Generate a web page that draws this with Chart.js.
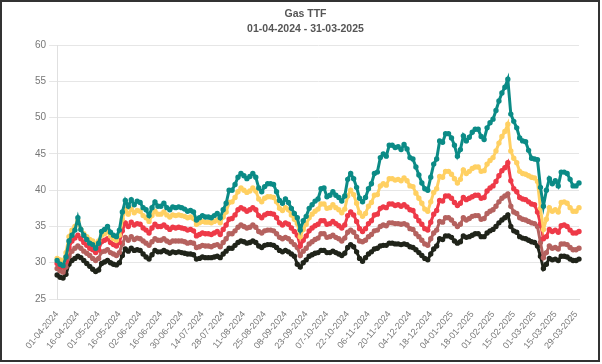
<!DOCTYPE html>
<html>
<head>
<meta charset="utf-8">
<script src="https://cdn.jsdelivr.net/npm/chart.js@4.4.1/dist/chart.umd.min.js"></script>
<style>
  html, body { margin: 0; padding: 0; background: #fff; }
  .frame { width: 600px; height: 362px; box-sizing: border-box; border: 2px solid #333; }
  canvas { display: block; }
</style>
</head>
<body>
<div class="frame"><canvas id="chart" width="596" height="358"></canvas></div>
<script>
// dates of the points (one every ~2 days)
const dates = [
  '01-04-2024','03-04-2024','05-04-2024','07-04-2024','10-04-2024','12-04-2024','14-04-2024',
  '16-04-2024','18-04-2024','20-04-2024','22-04-2024','25-04-2024','27-04-2024','29-04-2024',
  '01-05-2024','03-05-2024','05-05-2024','07-05-2024','10-05-2024','12-05-2024','14-05-2024',
  '16-05-2024','18-05-2024','21-05-2024','23-05-2024','26-05-2024','28-05-2024','31-05-2024',
  '02-06-2024','04-06-2024','06-06-2024','08-06-2024','10-06-2024','12-06-2024','14-06-2024',
  '16-06-2024','18-06-2024','20-06-2024','22-06-2024','24-06-2024','26-06-2024','28-06-2024',
  '30-06-2024','02-07-2024','04-07-2024','06-07-2024','08-07-2024','10-07-2024','12-07-2024',
  '14-07-2024','16-07-2024','18-07-2024','20-07-2024','22-07-2024','24-07-2024','26-07-2024',
  '28-07-2024','30-07-2024','01-08-2024','03-08-2024','05-08-2024','07-08-2024','09-08-2024',
  '11-08-2024','13-08-2024','15-08-2024','17-08-2024','19-08-2024','21-08-2024','23-08-2024',
  '25-08-2024','27-08-2024','29-08-2024','31-08-2024','02-09-2024','04-09-2024','06-09-2024',
  '08-09-2024','10-09-2024','12-09-2024','14-09-2024','17-09-2024','19-09-2024','21-09-2024',
  '23-09-2024','25-09-2024','27-09-2024','29-09-2024','01-10-2024','03-10-2024','05-10-2024',
  '07-10-2024','09-10-2024','11-10-2024','13-10-2024','16-10-2024','18-10-2024','20-10-2024',
  '22-10-2024','24-10-2024','26-10-2024','28-10-2024','31-10-2024','02-11-2024','04-11-2024',
  '06-11-2024','08-11-2024','10-11-2024','12-11-2024','14-11-2024','16-11-2024','18-11-2024',
  '20-11-2024','22-11-2024','24-11-2024','26-11-2024','28-11-2024','30-11-2024','02-12-2024',
  '04-12-2024','06-12-2024','08-12-2024','10-12-2024','12-12-2024','14-12-2024','16-12-2024',
  '18-12-2024','20-12-2024','23-12-2024','25-12-2024','28-12-2024','30-12-2024','02-01-2025',
  '04-01-2025','06-01-2025','08-01-2025','10-01-2025','12-01-2025','14-01-2025','16-01-2025',
  '18-01-2025','20-01-2025','22-01-2025','24-01-2025','26-01-2025','28-01-2025','30-01-2025',
  '01-02-2025','03-02-2025','05-02-2025','07-02-2025','09-02-2025','11-02-2025','13-02-2025',
  '15-02-2025','17-02-2025','19-02-2025','21-02-2025','23-02-2025','25-02-2025','27-02-2025',
  '01-03-2025','03-03-2025','05-03-2025','07-03-2025','09-03-2025','11-03-2025','13-03-2025',
  '15-03-2025','17-03-2025','19-03-2025','21-03-2025','23-03-2025','25-03-2025','27-03-2025',
  '29-03-2025','31-03-2025'
];

// labels shown under the x axis
const tickLabels = [
  '01-04-2024','16-04-2024','01-05-2024','16-05-2024','02-06-2024','16-06-2024','30-06-2024',
  '14-07-2024','28-07-2024','11-08-2024','25-08-2024','08-09-2024','23-09-2024','07-10-2024',
  '22-10-2024','06-11-2024','20-11-2024','04-12-2024','18-12-2024','04-01-2025','18-01-2025',
  '01-02-2025','15-02-2025','01-03-2025','15-03-2025','29-03-2025'
];

const teal = [
  30.3,29.8,29.6,30.8,33.0,33.8,34.5, 36.2,34.6,33.8,33.2,32.7,32.5,32.0,
  32.7,34.3,34.6,35.0,34.2,33.8,33.6, 34.5,37.0,38.6,37.8,38.7,38.0,38.5,
  38.3,37.6,37.3,36.5,37.6,38.4,37.8, 37.8,38.2,37.6,37.3,37.7,37.6,37.7,
  37.6,37.4,37.1,37.2,37.0,35.9,36.2, 36.5,36.3,36.3,36.2,36.5,36.8,36.2,
  37.3,38.2,40.0,40.0,40.8,41.8,42.3, 42.0,41.6,41.9,42.3,41.8,40.3,39.8,
  40.5,40.9,40.9,40.8,39.8,38.6,38.2, 38.8,38.3,37.5,36.8,36.2,34.5,35.8,
  36.4,37.5,38.0,38.5,38.8,40.2,40.3, 39.1,39.3,39.8,39.3,39.0,38.5,39.2,
  41.5,42.3,41.6,40.4,38.9,38.4,39.0, 40.2,40.9,42.3,42.5,44.5,45.0,44.7,
  46.2,46.2,45.9,46.0,45.6,46.3,45.7, 44.5,44.3,43.2,42.1,41.0,40.2,40.0,
  41.8,43.6,44.3,46.8,46.6,47.8,47.8, 47.2,46.2,44.7,45.6,47.5,46.8,47.3,
  48.0,48.4,48.4,47.4,47.0,48.6,49.3, 49.8,51.0,52.3,53.4,54.2,55.3,50.5,
  49.5,48.6,47.2,46.8,46.7,45.5,44.4, 44.3,44.2,40.4,37.8,40.0,41.6,40.9,
  41.3,40.6,42.5,42.5,42.3,41.5,40.6, 40.6,41.0
];

const yellow = [
  30.6,30.4,30.2,31.4,33.6,34.5,35.0, 35.8,34.6,34.0,33.6,33.2,33.0,32.6,
  33.0,33.8,34.0,34.3,33.7,33.3,33.1, 33.8,36.0,37.3,36.7,37.4,36.9,37.2,
  37.1,36.5,36.2,35.7,36.5,37.1,36.7, 36.7,37.0,36.6,36.3,36.6,36.5,36.6,
  36.5,36.4,36.2,36.3,36.1,35.3,35.5, 35.7,35.6,35.6,35.5,35.7,35.9,35.5,
  36.3,37.0,38.3,38.4,39.0,39.8,40.3, 40.0,39.7,39.9,40.3,39.9,38.8,38.4,
  38.9,39.1,39.1,39.0,38.4,37.5,37.2, 37.6,37.3,36.6,36.0,35.4,33.6,34.6,
  35.3,36.2,36.7,37.1,37.4,38.1,38.1, 37.5,37.6,38.0,37.6,37.3,36.9,37.4,
  39.2,40.0,39.4,38.2,36.9,36.4,36.8, 37.8,38.3,39.3,39.4,40.6,40.9,40.7,
  41.6,41.6,41.4,41.5,41.3,41.7,41.3, 40.6,40.5,39.6,38.9,38.2,37.4,37.1,
  38.4,39.7,40.2,41.9,41.8,42.6,42.6, 42.2,41.6,41.0,41.5,42.8,42.3,42.6,
  43.0,43.2,43.2,42.6,42.7,43.6,44.1, 44.5,45.4,46.5,47.4,48.1,49.1,45.4,
  44.4,43.8,42.6,42.3,42.2,42.0,41.8, 41.7,41.2,37.5,34.6,36.0,37.6,37.1,
  37.3,37.0,38.3,38.4,38.2,37.6,37.1, 37.1,37.6
];

const red = [
  29.9,29.5,29.4,30.2,32.1,33.0,33.4, 33.8,33.3,32.8,32.4,32.0,31.8,31.4,
  31.8,32.9,33.1,33.3,32.8,32.5,32.3, 32.8,34.4,35.5,35.0,35.6,35.2,35.4,
  35.3,34.8,34.5,34.1,34.8,35.3,35.0, 35.0,35.2,34.9,34.6,34.9,34.8,34.9,
  34.8,34.7,34.5,34.6,34.4,33.7,33.9, 34.1,34.0,34.0,33.9,34.1,34.3,33.9,
  34.6,35.2,36.0,36.1,36.6,37.3,37.6, 37.4,37.1,37.3,37.6,37.3,36.5,36.2,
  36.6,36.8,36.8,36.7,36.2,35.5,35.2, 35.5,35.3,34.8,34.3,33.8,32.3,33.1,
  33.7,34.4,34.8,35.1,35.3,35.8,35.8, 35.3,35.4,35.7,35.4,35.1,34.8,35.2,
  36.5,37.0,36.6,35.7,34.7,34.3,34.7, 35.4,35.8,36.6,36.7,37.5,37.7,37.6,
  38.1,38.1,37.9,38.0,37.8,38.0,37.7, 37.3,37.2,36.4,35.8,35.3,34.7,34.5,
  35.6,36.7,37.2,38.6,38.5,39.2,39.2, 38.9,38.3,37.9,38.2,39.0,38.7,38.9,
  39.1,39.3,39.3,38.9,39.0,39.9,40.3, 40.6,41.2,42.0,42.7,43.1,43.8,41.3,
  40.2,39.8,39.0,38.8,38.7,38.4,38.1, 38.0,37.0,35.4,33.3,33.6,34.6,34.3,
  34.5,34.2,35.1,35.2,35.0,34.5,34.1, 34.1,34.3
];

const brown = [
  29.2,28.9,28.7,29.4,30.9,31.6,32.0, 32.3,32.0,31.6,31.3,31.0,30.6,30.3,
  30.6,31.5,31.6,31.8,31.4,31.2,31.0, 31.4,32.6,33.5,33.1,33.6,33.2,33.4,
  33.3,33.0,32.7,32.4,32.9,33.3,33.1, 33.1,33.3,33.0,32.8,33.0,33.0,33.0,
  33.0,32.9,32.7,32.8,32.7,32.1,32.2, 32.4,32.3,32.3,32.2,32.4,32.5,32.2,
  32.8,33.3,34.0,34.0,34.4,34.9,35.2, 35.0,34.8,34.9,35.2,34.9,34.3,34.1,
  34.4,34.5,34.5,34.4,34.0,33.5,33.3, 33.5,33.3,32.9,32.5,32.1,31.0,31.6,
  32.0,32.6,32.9,33.2,33.4,34.0,34.0, 33.5,33.6,33.8,33.5,33.3,33.0,33.4,
  34.2,34.5,34.2,33.6,33.0,32.9,33.1, 33.6,33.9,34.4,34.5,35.0,35.2,35.1,
  35.5,35.5,35.4,35.4,35.3,35.4,35.2, 34.7,34.6,34.0,33.6,33.1,32.6,32.4,
  33.3,34.1,34.5,35.7,35.6,36.2,36.2, 35.9,35.4,35.0,35.3,36.2,35.9,36.1,
  36.4,36.5,36.5,36.0,36.1,36.8,37.1, 37.3,37.8,38.4,38.9,39.2,39.5,37.8,
  37.0,36.8,36.2,36.0,35.9,35.7,35.5, 35.4,35.0,32.8,30.7,31.4,32.3,32.0,
  32.1,31.9,32.6,32.6,32.5,32.1,31.8, 31.8,32.0
];

const black = [
  28.3,28.0,27.9,28.4,29.8,30.3,30.6, 30.9,30.7,30.3,29.9,29.5,29.1,28.8,
  29.0,29.9,30.1,30.3,30.0,29.8,29.7, 30.0,31.0,31.9,31.6,32.0,31.7,31.8,
  31.7,31.2,30.8,30.5,31.1,31.7,31.5, 31.5,31.7,31.5,31.3,31.5,31.4,31.5,
  31.4,31.3,31.2,31.2,31.1,30.5,30.6, 30.8,30.7,30.7,30.7,30.8,30.9,30.7,
  31.2,31.6,32.0,32.0,32.4,32.8,33.0, 32.9,32.7,32.8,33.0,32.8,32.3,32.1,
  32.4,32.5,32.5,32.4,32.1,31.7,31.5, 31.7,31.5,31.2,30.9,29.8,29.4,30.0,
  30.4,30.9,31.1,31.3,31.4,31.7,31.7, 31.4,31.4,31.6,31.4,31.2,31.0,31.3,
  32.1,32.5,32.2,31.5,30.6,30.2,30.7, 31.2,31.5,31.9,32.0,32.3,32.4,32.4,
  32.7,32.7,32.6,32.6,32.5,32.6,32.5, 32.2,32.1,31.8,31.4,31.0,30.6,30.4,
  31.2,31.9,32.3,33.3,33.2,33.7,33.7, 33.5,33.0,32.7,32.9,33.7,33.5,33.6,
  33.8,34.0,34.0,33.6,33.6,34.1,34.4, 34.6,35.0,35.5,35.9,36.2,36.6,35.0,
  34.4,34.2,33.6,33.4,33.3,33.1,32.9, 32.8,32.3,30.9,29.2,29.8,30.6,30.4,
  30.5,30.3,30.9,30.9,30.8,30.5,30.3, 30.3,30.5
];

const yMin = 25, yMax = 60, yStep = 5;

Chart.defaults.font.family = '"Liberation Sans", Arial, Helvetica, sans-serif';
Chart.defaults.color = '#666';

function line(data, color) {
  return {
    data: data,
    borderColor: color,
    backgroundColor: color,
    borderWidth: 3,
    pointRadius: 1.2,
    pointHoverRadius: 3,
    tension: 0,
    fill: false
  };
}

new Chart(document.getElementById('chart'), {
  type: 'line',
  data: {
    labels: dates,
    datasets: [
      line(teal, '#0b8b86'),
      line(yellow, '#ffd062'),
      line(red, '#ee3a48'),
      line(brown, '#b5625f'),
      line(black, '#20241a')
    ]
  },
  options: {
    responsive: false,
    animation: false,
    layout: { padding: { left: 30, right: 19, top: 1, bottom: 0 } },
    plugins: {
      legend: { display: false },
      tooltip: { enabled: false },
      title: {
        display: true,
        text: 'Gas TTF',
        color: '#555',
        font: { size: 10.5, weight: 'bold' },
        padding: { top: 5, bottom: 2 }
      },
      subtitle: {
        display: true,
        text: '01-04-2024 - 31-03-2025',
        color: '#555',
        font: { size: 10.5, weight: 'bold' },
        padding: { top: 0, bottom: 10 }
      }
    },
    scales: {
      x: {
        grid: { display: false, drawTicks: false, tickLength: 0 },
        border: { color: '#e0e0e0' },
        afterFit: function (scale) { scale.height = 61; },
        ticks: {
          autoSkip: false,
          minRotation: 50,
          maxRotation: 50,
          padding: 10,
          color: '#777',
          font: { size: 9 },
          callback: function (value) {
            const lbl = this.getLabelForValue(value);
            return tickLabels.includes(lbl) ? lbl : null;
          }
        }
      },
      y: {
        min: yMin,
        max: yMax,
        grid: { color: '#e6e6e6' },
        border: { color: '#e0e0e0' },
        ticks: { stepSize: yStep, color: '#777', font: { size: 10 } }
      }
    }
  }
});
</script>
</body>
</html>
